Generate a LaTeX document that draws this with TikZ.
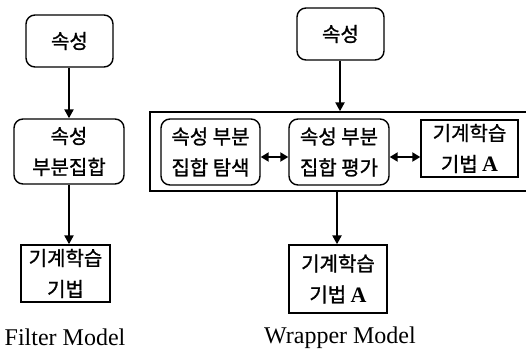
\documentclass[tikz,border=0pt]{standalone}
\usepackage{fontspec}
\setmainfont{Liberation Serif}
\newfontfamily\kr[FakeBold=1.2]{Noto Sans CJK KR}
\usetikzlibrary{arrows.meta}
\tikzset{
  box/.style={draw=black, line width=1.4pt, inner sep=0pt, align=center,
    font=\kr\fontsize{20}{31}\selectfont},
  rbox/.style={box, rounded corners=9pt},
  arr/.style={line width=2.5pt, -{Triangle[length=9pt,width=9pt]}},
  darr/.style={line width=2.5pt, {Triangle[length=8pt,width=9pt]}-{Triangle[length=8pt,width=9pt]}},
  captext/.style={font=\fontsize{24}{28}\selectfont}
}
\newcommand{\bA}{{\rmfamily\bfseries\fontsize{22}{31}\selectfont A}}
\begin{document}
\begin{tikzpicture}[x=1pt,y=-1pt]
\useasboundingbox (0,0) rectangle (526,356);
% Filter model
\node[rbox, minimum width=87pt, minimum height=52pt] (f1) at (69.5,41) {속성};
\node[rbox, minimum width=110pt, minimum height=65pt] (f2) at (69,151.5) {속성\\부분집합};
\node[box, minimum width=89pt, minimum height=57pt] (f3) at (65.5,273.5) {기계학습\\기법};
\node[captext] (fl) at (65,337) {Filter Model};
\draw[arr] (f1.south -| 69,0) -- (f2.north -| 69,0);
\draw[arr] (f2.south -| 69,0) -- (f3.north -| 69,0);
% Wrapper model
\node[rbox, minimum width=87pt, minimum height=52pt] (w1) at (340.5,34) {속성};
\node[draw=black, line width=1.4pt, minimum width=380pt, minimum height=79pt, inner sep=0pt] (outer) at (340,151.5) {};
\node[rbox, minimum width=99pt, minimum height=66pt] (w2) at (210.5,152) {속성 부분\\집합 탐색};
\node[rbox, minimum width=100pt, minimum height=66pt] (w3) at (339,152) {속성 부분\\집합 평가};
\node[box, minimum width=97pt, minimum height=57pt] (w4) at (469.5,148.5) {기계학습\\기법 \bA};
\node[box, minimum width=98pt, minimum height=68pt] (w5) at (338,279) {기계학습\\기법 \bA};
\node[captext] (wl) at (340,338) {Wrapper Model};
\draw[arr] (w1.south -| 340,0) -- (outer.north -| 340,0);
\draw[darr] (w2.east |- 0,157) -- (w3.west |- 0,157);
\draw[darr] (w3.east |- 0,157) -- (w4.west |- 0,157);
\draw[arr] (outer.south -| 337,0) -- (w5.north -| 337,0);
\end{tikzpicture}
\end{document}
